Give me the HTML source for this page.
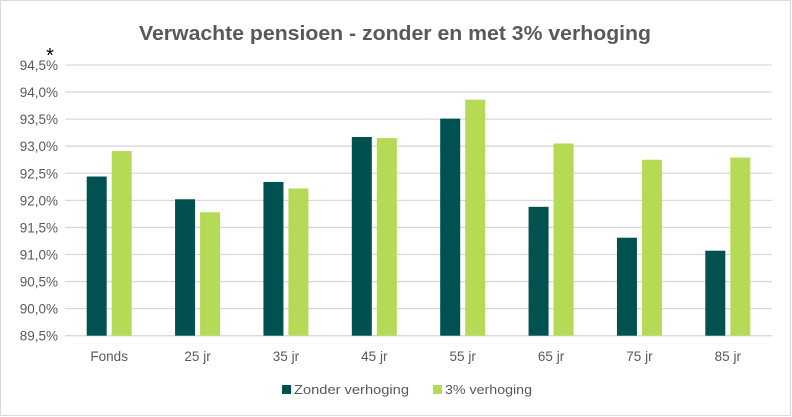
<!DOCTYPE html>
<html><head><meta charset="utf-8"><style>
html,body{margin:0;padding:0;background:#fff;}
svg{display:block;font-family:"Liberation Sans",sans-serif;}
</style></head><body>
<svg id="chart" width="792" height="417" viewBox="0 0 792 417">
<rect x="0.5" y="0.5" width="790" height="415" fill="#fff" stroke="#d9d9d9"/>
<text x="395" y="40" text-anchor="middle" font-size="20" font-weight="bold" fill="#595959" textLength="512" lengthAdjust="spacingAndGlyphs">Verwachte pensioen - zonder en met 3% verhoging</text>
<text x="50" y="62" text-anchor="middle" font-size="20" fill="#000">*</text>
<g id="grid"></g><g id="bars"></g><g id="labels"></g>
<g>
<rect x="282" y="385" width="9" height="9" fill="#00514F"/>
<text x="294" y="394" font-size="13" fill="#595959" textLength="115" lengthAdjust="spacingAndGlyphs">Zonder verhoging</text>
<rect x="433" y="385" width="9" height="9" fill="#B5DA55"/>
<text x="445" y="394" font-size="13" fill="#595959" textLength="87" lengthAdjust="spacingAndGlyphs">3% verhoging</text>
</g>
</svg>
<script>
const categories=["Fonds","25 jr","35 jr","45 jr","55 jr","65 jr","75 jr","85 jr"];
const zonder=[92.44,92.02,92.34,93.17,93.51,91.88,91.31,91.07];
const verhoging=[92.91,91.78,92.22,93.15,93.86,93.05,92.75,92.79];
const ticks=[89.5,90.0,90.5,91.0,91.5,92.0,92.5,93.0,93.5,94.0,94.5];
const NS="http://www.w3.org/2000/svg";
const x0=65,x1=772,yMin=89.5,yMax=94.5,yTop=65,yBot=335.7;
const y=v=>yBot-(v-yMin)/(yMax-yMin)*(yBot-yTop);
const bw=(x1-x0)/categories.length;
const cx=i=>x0+bw*(i+0.5);
const grid=document.getElementById('grid'),bars=document.getElementById('bars'),labels=document.getElementById('labels');
function mk(tag,attrs,parent){const e=document.createElementNS(NS,tag);for(const k in attrs)e.setAttribute(k,attrs[k]);parent.appendChild(e);return e;}
ticks.forEach(t=>{
  const l=mk('line',{x1:x0,x2:x1,y1:y(t),y2:y(t),stroke:'#d9d9d9','stroke-width':1.3},grid);
  
  
  const tx=mk('text',{x:58,y:y(t)+5,'text-anchor':'end','font-size':13.5,fill:'#595959'},grid);
  tx.textContent=t.toFixed(1).replace('.',',')+'%';
  
  
});
categories.forEach((c,i)=>{
  const a=mk('rect',{x:cx(i)-22.5,y:y(zonder[i]),width:20,height:yBot-y(zonder[i]),fill:'#00514F'},bars);
  
  
  const b=mk('rect',{x:cx(i)+2.5,y:y(verhoging[i]),width:20,height:yBot-y(verhoging[i]),fill:'#B5DA55'},bars);
  
  
  const t=mk('text',{x:cx(i),y:361,'text-anchor':'middle','font-size':13.5,fill:'#595959'},labels);
  t.textContent=c;
  
  
});
</script>
</body></html>
